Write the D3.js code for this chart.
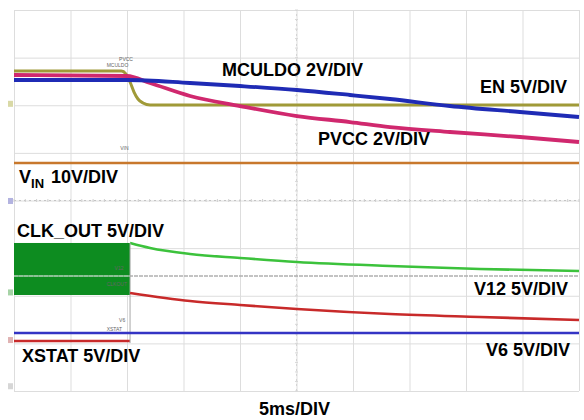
<!DOCTYPE html>
<html>
<head>
<meta charset="utf-8">
<script src="https://cdn.jsdelivr.net/npm/d3@7/dist/d3.min.js"></script>
<style>
  html, body { margin: 0; padding: 0; background: #fff; }
  svg { display: block; }
  .lbl { font-family: "Liberation Sans", Arial, sans-serif; font-weight: bold; font-size: 18px; fill: #000; }
  .tiny { font-family: "Liberation Sans", Arial, sans-serif; font-size: 5px; fill: #666; }
</style>
</head>
<body>
<svg id="chart" width="584" height="420"></svg>
<script>
// ---- Data (time in ms, 5 ms/div; amplitude in screen divisions from bottom) ----
const timeTicks = [0, 5, 10, 15, 20, 25, 30, 35, 40, 45, 50];
const divTicks = [0, 1, 2, 3, 4, 5, 6, 7, 8];

const enT   = [0, 9.5, 9.9, 10.27, 10.62, 10.97, 11.42, 12.04, 50];
const enV   = [6.72, 6.72, 6.66, 6.488, 6.278, 6.131, 6.047, 6.005, 6.005];

const pvccT = [0, 10.0, 12.04, 15.58, 20.0, 25.04, 29.73, 33.27, 38.58, 44.78, 50];
const pvccV = [6.635, 6.614, 6.467, 6.194, 5.984, 5.774, 5.648, 5.543, 5.438, 5.333, 5.228];

const mcuT  = [0, 10.0, 15.58, 20.0, 25.04, 29.73, 33.27, 38.58, 44.78, 50];
const mcuV  = [6.53, 6.53, 6.467, 6.404, 6.32, 6.215, 6.131, 5.984, 5.858, 5.753];

const vinT  = [0, 50];
const vinV  = [4.787, 4.787];

const clkBurstT = [0, 10.27];
const clkBurstV = [2.016, 3.108];   // low / high rails of switching burst
const clkT  = [10.27, 12.04, 15.58, 20.0, 25.04, 33.27, 41.24, 50];
const clkV  = [3.108, 3.003, 2.877, 2.793, 2.709, 2.625, 2.562, 2.52];

const v12T  = [0, 50];
const v12V  = [2.415, 2.415];

const xstatLowT  = [0, 10.27];
const xstatLowV  = [1.05, 1.05];
const xstatHighT = [10.27, 15.58, 20.0, 25.04, 33.27, 41.24, 50];
const xstatHighV = [2.058, 1.89, 1.806, 1.722, 1.617, 1.554, 1.491];

const v6T   = [0, 50];
const v6V   = [1.218, 1.218];

const markerDivs   = [6.03, 3.99, 2.07, 1.07, 0.1];
const markerColors = ["#d0d090", "#a0a0d8", "#90c890", "#d8a0a0", "#cccccc"];

const labels = [
  { text: "MCULDO 2V/DIV", x: 222, y: 76 },
  { text: "EN 5V/DIV", x: 480, y: 93 },
  { text: "PVCC 2V/DIV", x: 318, y: 145 },
  { text: "CLK_OUT 5V/DIV", x: 17, y: 237 },
  { text: "V12 5V/DIV", x: 474, y: 295 },
  { text: "XSTAT 5V/DIV", x: 22, y: 362 },
  { text: "V6 5V/DIV", x: 486, y: 356 },
  { text: "5ms/DIV", x: 259, y: 415 }
];

// ---- Scales ----
const svg = d3.select("#chart");
const x = d3.scaleLinear().domain([0, 50]).range([14, 579]);
const y = d3.scaleLinear().domain([0, 8]).range([391, 10]);

// ---- Grid ----
const grid = svg.append("g");
grid.append("g")
  .attr("transform", `translate(0,${y(0)})`)
  .call(d3.axisBottom(x).tickValues(timeTicks).tickSize(-(y(0) - y(8))).tickFormat(""))
  .call(g => g.select(".domain").remove())
  .call(g => g.selectAll("line").attr("stroke", "#dddddd").attr("stroke-width", 1));
grid.append("g")
  .attr("transform", `translate(${x(0)},0)`)
  .call(d3.axisLeft(y).tickValues(divTicks).tickSize(-(x(50) - x(0))).tickFormat(""))
  .call(g => g.select(".domain").remove())
  .call(g => g.selectAll("line").attr("stroke", "#dddddd").attr("stroke-width", 1));
// centre graticule lines (dotted, with minor ticks)
grid.append("line").attr("x1", x(0)).attr("x2", x(50)).attr("y1", y(4)).attr("y2", y(4))
  .attr("stroke", "#c4c4c4").attr("stroke-dasharray", "2,3");
grid.append("line").attr("x1", x(25)).attr("x2", x(25)).attr("y1", y(0)).attr("y2", y(8))
  .attr("stroke", "#d4d4d4").attr("stroke-dasharray", "2,3");
const minorX = d3.range(0, 50.01, 1);
grid.selectAll(".mx").data(minorX).enter().append("line")
  .attr("x1", d => x(d)).attr("x2", d => x(d)).attr("y1", y(4) - 1.5).attr("y2", y(4) + 1.5)
  .attr("stroke", "#d0d0d0");
const minorY = d3.range(0, 8.01, 0.2);
grid.selectAll(".my").data(minorY).enter().append("line")
  .attr("x1", x(25) - 1.5).attr("x2", x(25) + 1.5).attr("y1", d => y(d)).attr("y2", d => y(d))
  .attr("stroke", "#d8d8d8");

// ---- Traces ----
const line = d3.line().x(d => x(d[0])).y(d => y(d[1])).curve(d3.curveMonotoneX);
const zip = (a, b) => a.map((t, i) => [t, b[i]]);
function trace(ts, vs, color, w, dash) {
  const p = svg.append("path").datum(zip(ts, vs)).attr("d", line)
    .attr("fill", "none").attr("stroke", color).attr("stroke-width", w)
    .attr("stroke-linejoin", "round");
  if (dash) p.attr("stroke-dasharray", dash);
  return p;
}

// lower group
svg.append("rect")
  .attr("x", x(clkBurstT[0])).attr("y", y(clkBurstV[1]))
  .attr("width", x(clkBurstT[1]) - x(clkBurstT[0]))
  .attr("height", y(clkBurstV[0]) - y(clkBurstV[1]))
  .attr("fill", "#0d8c20");
trace(v12T, v12V, "#b0b0b0", 1.6, "4,1");
// V12 seen through the burst is lighter
svg.append("line").attr("x1", x(clkBurstT[0])).attr("x2", x(clkBurstT[1]))
  .attr("y1", y(v12V[0])).attr("y2", y(v12V[0]))
  .attr("stroke", "#8fc89a").attr("stroke-width", 1.4);
trace(clkT, clkV, "#3cc23c", 2.6);
trace(xstatLowT, xstatLowV, "#c82a2a", 2.4);
svg.append("line").attr("x1", x(xstatHighT[0])).attr("x2", x(xstatHighT[0]))
  .attr("y1", y(clkBurstV[1])).attr("y2", y(xstatLowV[0]) + 2)
  .attr("stroke", "#a8a8a8").attr("stroke-width", 1);
trace(xstatHighT, xstatHighV, "#c82a2a", 2.6);
trace(v6T, v6V, "#3434c4", 2.6);

// upper group
trace(vinT, vinV, "#c8782c", 2.6);
trace(enT, enV, "#a09a38", 3);
trace(pvccT, pvccV, "#d0286e", 3.8);
trace(mcuT, mcuV, "#1f2bb5", 3.8);

// channel reference markers
svg.selectAll(".mk").data(markerDivs).enter().append("rect")
  .attr("x", 8).attr("y", d => y(d) - 3).attr("width", 5).attr("height", 6)
  .attr("fill", (d, i) => markerColors[i]).attr("opacity", 0.8);

// tiny scope tags
const tags = [["PVCC", 9.3, 6.93], ["MCULDO", 8.2, 6.8], ["V12", 8.9, 2.55], ["CLKOUT", 8.2, 2.2], ["V6", 9.3, 1.45], ["XSTAT", 8.2, 1.25], ["VIN", 9.4, 5.05]];
svg.selectAll(".tg").data(tags).enter().append("text").attr("class", "tiny")
  .attr("x", d => x(d[1])).attr("y", d => y(d[2])).text(d => d[0]);

// ---- Labels ----
svg.selectAll(".lb").data(labels).enter().append("text").attr("class", "lbl")
  .attr("x", d => d.x).attr("y", d => d.y).text(d => d.text);
const vin = svg.append("text").attr("class", "lbl").attr("x", 19).attr("y", 183);
vin.append("tspan").text("V");
vin.append("tspan").attr("font-size", "13px").attr("dy", 5).text("IN");
vin.append("tspan").attr("x", 51).attr("dy", -5).text("10V/DIV");
</script>
</body>
</html>
